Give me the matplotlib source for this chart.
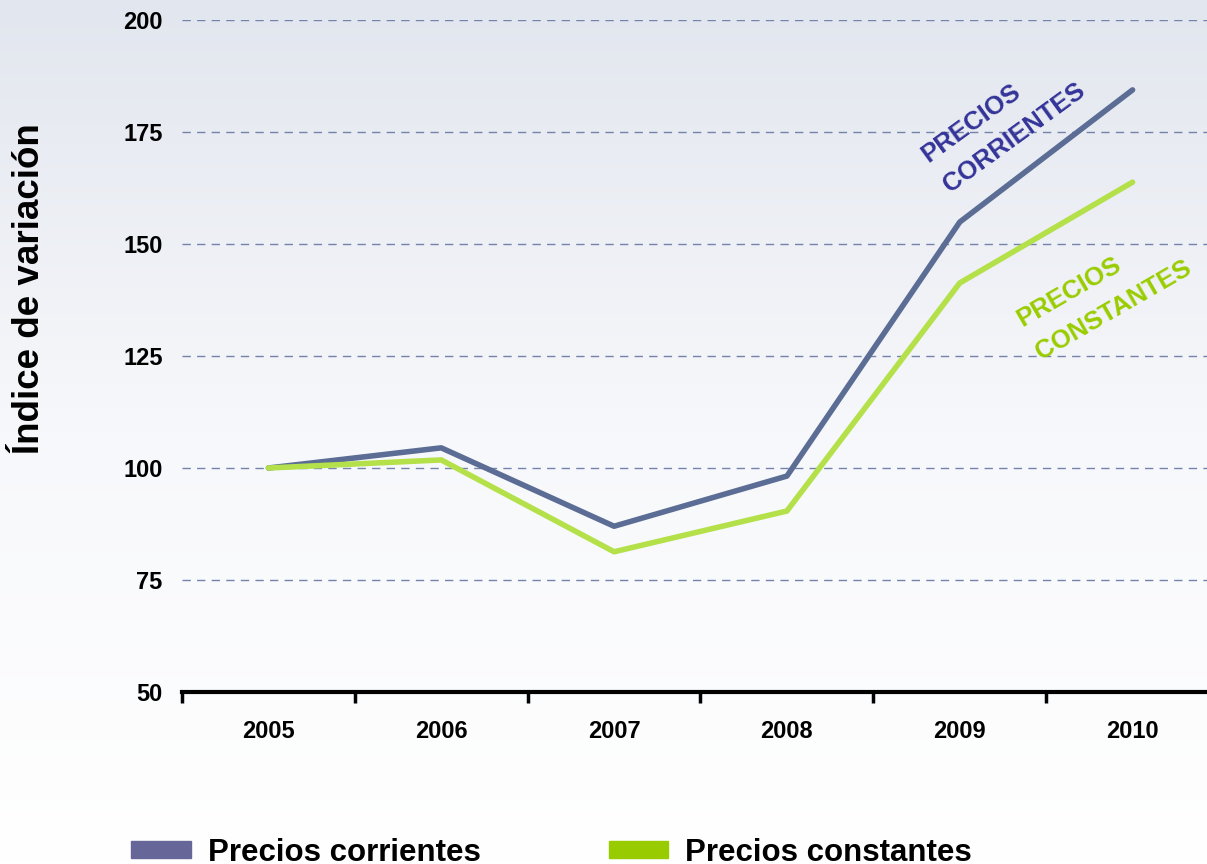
import matplotlib.pyplot as plt
import numpy as np
from matplotlib.patches import Patch
from matplotlib.colors import LinearSegmentedColormap

years = ["2005", "2006", "2007", "2008", "2009", "2010"]
corrientes = [100, 104.5, 87, 98.2, 154.9, 184.4]
constantes = [100, 101.8, 81.3, 90.4, 141.3, 163.8]
yticks = [50, 75, 100, 125, 150, 175, 200]

plt.rcParams['font.family'] = ['Liberation Sans', 'DejaVu Sans']
plt.rcParams['font.weight'] = 'bold'

fig = plt.figure(figsize=(12.07, 8.64), dpi=100)

# fondo degradado
bg = fig.add_axes([0, 0, 1, 1], zorder=0)
grad = np.linspace(0, 1, 256).reshape(-1, 1)
cmap = LinearSegmentedColormap.from_list('bg', ['#e2e6ee', '#f7f8fb', '#ffffff'])
bg.imshow(grad, aspect='auto', cmap=cmap, extent=[0, 1, 0, 1], origin='upper')
bg.axis('off')

W, H = 1207, 864
left = 182 / W
right = 1219 / W
bottom = 1 - 692 / H
top = 1 - 20 / H
ax = fig.add_axes([left, bottom, right - left, top - bottom], zorder=1)
ax.patch.set_alpha(0)

x = np.arange(len(years))
ax.plot(x, corrientes, color='#5b6d94', lw=4, solid_capstyle='round', zorder=3)
ax.plot(x, constantes, color='#b4e04a', lw=4, solid_capstyle='round', zorder=3)

ax.set_xlim(-0.5, 5.5)
ax.set_ylim(50, 200)
ax.set_yticks(yticks)
ax.set_yticklabels([str(v) for v in yticks], fontsize=17, fontweight='bold')
ax.tick_params(axis='y', length=0, pad=14)
ax.set_xticks(x)
ax.set_xticklabels(years, fontsize=17, fontweight='bold')
ax.tick_params(axis='x', which='major', length=0, pad=20)
ax.set_xticks(np.arange(-0.5, 6, 1), minor=True)
ax.tick_params(axis='x', which='minor', length=8, width=2.5, direction='out', color='black')

for v in yticks[1:]:
    ax.axhline(v, color='#7483ab', lw=1, ls=(0, (6, 4.5)), zorder=1)

for s in ['top', 'right', 'left']:
    ax.spines[s].set_visible(False)
ax.spines['bottom'].set_linewidth(3)
ax.spines['bottom'].set_color('black')

# etiquetas de las series (va='baseline' -> base de la ultima linea)
ax.text(3.90, 163.8, "PRECIOS\nCORRIENTES", rotation=36, color='#333399', fontsize=18.5,
        fontweight='bold', ha='left', va='baseline', rotation_mode='anchor', linespacing=1.7)
ax.text(4.43, 126.8, "PRECIOS\nCONSTANTES", rotation=30, color='#99cc00', fontsize=18.5,
        fontweight='bold', ha='left', va='baseline', rotation_mode='anchor', linespacing=1.75)

fig.text(30 / W, 1 - 289 / H, "Índice de variación", rotation=90, fontsize=26.5,
         fontweight='bold', ha='center', va='center')

handles = [Patch(color='#666699'), Patch(color='#99cc00')]
leg = fig.legend(handles, ["Precios corrientes", "Precios constantes"], loc='lower left',
                 bbox_to_anchor=(103 / W, -0.037), ncol=2, frameon=False,
                 prop={'size': 22.5, 'weight': 'bold'}, handlelength=1.9, handleheight=0.45,
                 columnspacing=4.1, handletextpad=0.55)

fig.savefig("out.png", dpi=100)
